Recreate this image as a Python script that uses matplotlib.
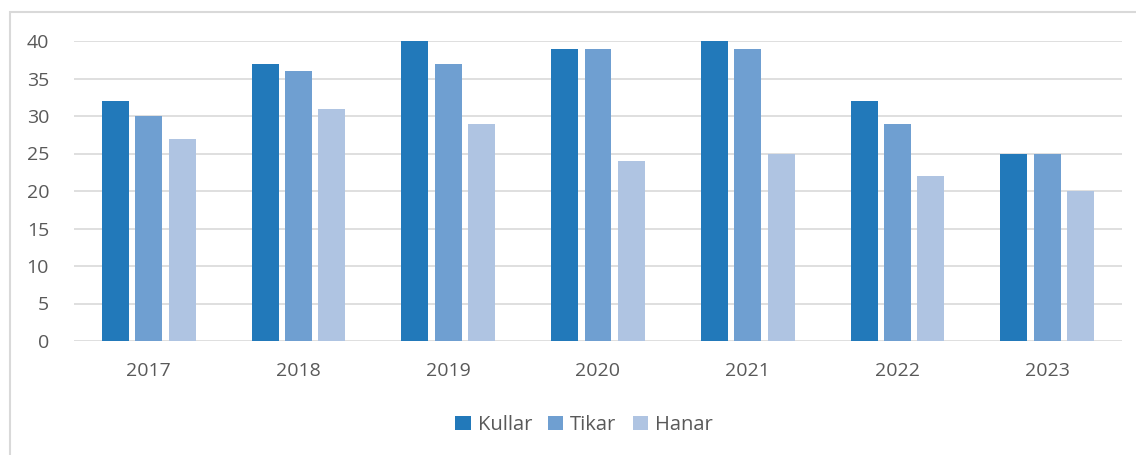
import numpy as np
import matplotlib.pyplot as plt
from matplotlib.patches import Rectangle

years = ["2017", "2018", "2019", "2020", "2021", "2022", "2023"]
kullar = [32, 37, 40, 39, 40, 32, 25]
tikar = [30, 36, 37, 39, 39, 29, 25]
hanar = [27, 31, 29, 24, 25, 22, 20]

series = [("Kullar", kullar, "#2279BA"), ("Tikar", tikar, "#6F9FD1"), ("Hanar", hanar, "#AFC4E2")]
TXT = "#595959"

plt.rcParams["font.family"] = ["Open Sans", "DejaVu Sans"]

fig = plt.figure(figsize=(11.36, 4.55), dpi=100)
ax = fig.add_axes([74 / 1136, 1 - 341 / 455, (1122 - 74) / 1136, 300 / 455])

x = np.arange(len(years))
w = 0.18
offsets = [-0.223, 0.0, 0.223]
for (name, vals, col), off in zip(series, offsets):
    ax.bar(x + off, vals, width=w, color=col, label=name, zorder=3)

ax.set_xlim(-0.5, len(years) - 0.5)
ax.set_ylim(0, 40)
ax.set_yticks(range(0, 41, 5))
ax.set_xticks(x)
ax.set_xticklabels(years)
ax.yaxis.grid(True, color="#D9D9D9", lw=1.2, zorder=0)
for s in ax.spines.values():
    s.set_visible(False)
ax.tick_params(length=0, labelsize=14, colors=TXT)
ax.tick_params(axis="x", pad=15)
ax.tick_params(axis="y", pad=18)

leg = fig.legend(loc="center", bbox_to_anchor=(584 / 1136, 1 - 425 / 455), ncol=3, frameon=False,
                 fontsize=14.5, handlelength=0.75, handleheight=0.75, handletextpad=0.35,
                 columnspacing=0.8)
for t in leg.get_texts():
    t.set_color(TXT)

fig.patches.append(Rectangle((10 / 1136, -0.1), 1.2, 1 - 12 / 455 + 0.1, transform=fig.transFigure,
                             fill=False, edgecolor="#D9D9D9", lw=1.5))

fig.savefig("out.png", dpi=100)
